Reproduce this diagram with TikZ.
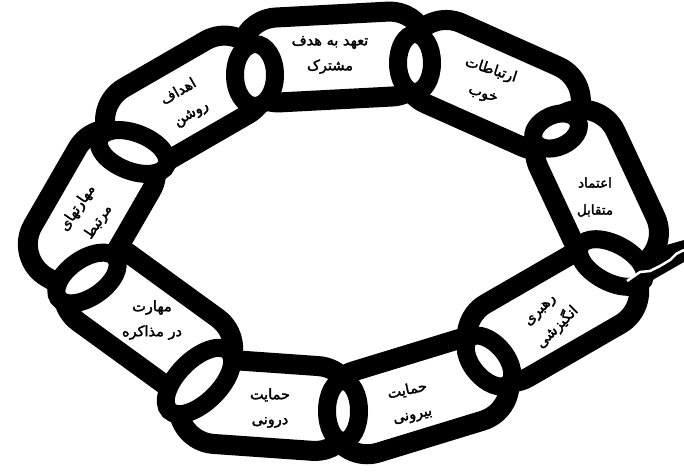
\documentclass[tikz,border=0pt]{standalone}
\usepackage{fontspec}
\usetikzlibrary{shapes.geometric}
\newfontfamily\arabicfont[Script=Arabic,FakeBold=2]{DejaVu Sans}
\TeXXeTstate=1
\begin{document}
\begin{tikzpicture}[x=1pt,y=-1pt,
  chainlink/.style={draw=black, line width=20pt, fill=white, rounded corners=38pt, minimum height=85pt, inner sep=0pt, outer sep=0pt},
  ringhole/.style={ellipse, draw=black, line width=18pt, fill=white, inner sep=0pt, outer sep=0pt},
  linktext/.style={font=\arabicfont\fontsize{14.5}{25}\selectfont, align=center, inner sep=0pt}]
\useasboundingbox (0,0) rectangle (684,475);
% links
\node[chainlink, minimum width=188pt, rotate=3]   (l1) at (334,57) {};
\node[chainlink, minimum width=182pt, minimum height=88pt, rotate=-24] (l2) at (492,85) {};
\node[chainlink, minimum width=170pt, rotate=-65] (l3) at (597,192) {};
\node[chainlink, minimum width=182pt, rotate=30]  (l4) at (553,314) {};
\node[chainlink, minimum width=185pt, rotate=17]  (l5) at (418,396) {};
\node[chainlink, minimum width=175pt, rotate=-4]  (l6) at (266,405) {};
\node[chainlink, minimum width=186pt, rotate=-36] (l7) at (148,320) {};
\node[chainlink, minimum width=165pt, rotate=60]  (l8) at (92,208) {};
\node[chainlink, minimum width=170pt, rotate=30]  (l9) at (186,101) {};
% rings at the joints
\node[ringhole, minimum width=40pt, minimum height=62pt] (j91) at (255,75) {};
\node[ringhole, minimum width=34pt, minimum height=58pt] (j12) at (415,63) {};
\node[ringhole, minimum width=48pt, minimum height=32pt, rotate=24] (j23) at (556,131) {};
\node[ringhole, minimum width=72pt, minimum height=38pt, rotate=-28] (j34) at (612,263) {};
\node[ringhole, minimum width=60pt, minimum height=34pt, rotate=-50] (j45) at (489,361) {};
\node[ringhole, minimum width=32pt, minimum height=60pt] (j56) at (343,411) {};
\node[ringhole, minimum width=84pt, minimum height=42pt, rotate=45] (j67) at (199,381) {};
\node[ringhole, minimum width=70pt, minimum height=38pt, rotate=35] (j78) at (87,278) {};
\node[ringhole, minimum width=72pt, minimum height=38pt, rotate=-21] (j89) at (133,152) {};
% broken end
\fill[black] (628,256) -- (684,240) -- (684,262) -- (642,286) -- cycle;
\coordinate (c0) at (627,281);
\coordinate (c1) at (684,250);
\draw[white, line width=2.5pt, line join=round] (c0) -- (640,272) -- (650,271) -- (660,266) -- (670,260) -- (676,254) -- (c1);
% texts
\node[linktext] (t1) at (330,55) {\beginR تعهد به هدف\endR\\\beginR مشترک\endR};
\node[linktext, rotate=-18] (t2) at (487,82) {\beginR ارتباطات\endR\\\beginR خوب\endR};
\node[linktext, font=\arabicfont\fontsize{13.5}{27}\selectfont] (t3) at (595,197) {\beginR اعتماد\endR\\\beginR متقابل\endR};
\node[linktext, rotate=45] (t4) at (550,320) {\beginR رهبری\endR\\\beginR انگیزشی\endR};
\node[linktext, rotate=12] (t5) at (410,403) {\beginR حمایت\endR\\\beginR بیرونی\endR};
\node[linktext] (t6) at (270,408) {\beginR حمایت\endR\\\beginR درونی\endR};
\node[linktext] (t7) at (152,320) {\beginR مهارت\endR\\\beginR در مذاکره\endR};
\node[linktext, rotate=56] (t8) at (88,215) {\beginR مهارتهای\endR\\\beginR مرتبط\endR};
\node[linktext, rotate=30] (t9) at (185,103) {\beginR اهداف\endR\\\beginR روشن\endR};
\end{tikzpicture}
\end{document}
